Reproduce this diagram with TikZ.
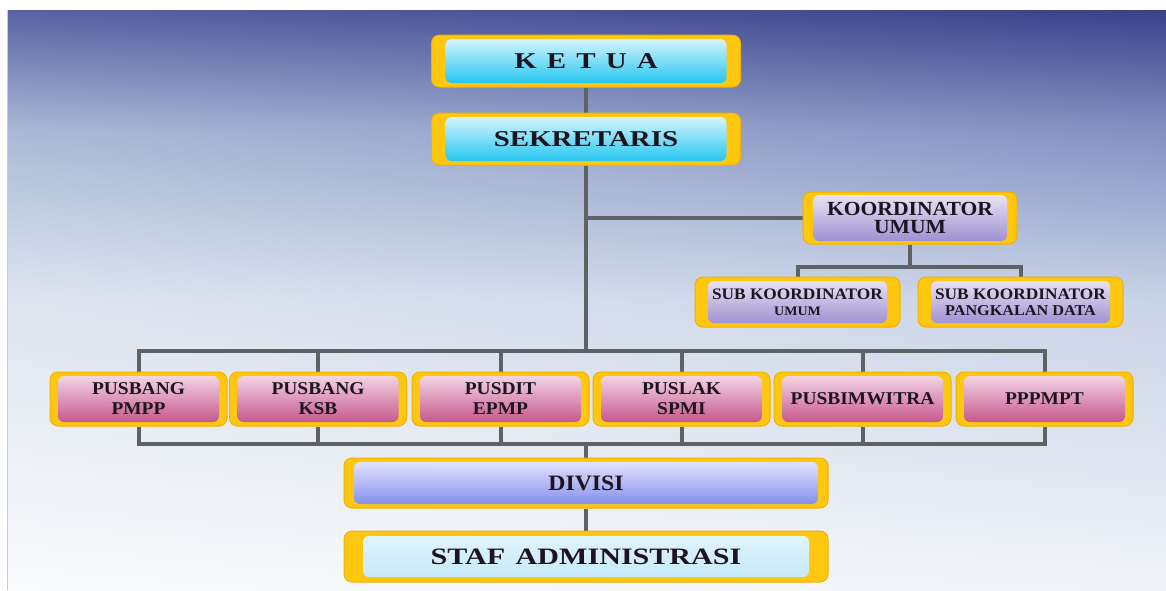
\documentclass[tikz,border=0pt]{standalone}
\usepackage{fontspec}
\setmainfont{Liberation Serif}
\newfontfamily\decofont[FakeStretch=1.28]{Liberation Serif}
\newfontfamily\ketuafont[FakeStretch=1.28, WordSpace=1.4]{Liberation Serif}
\newfontfamily\unitfont[FakeStretch=1.08]{Liberation Serif}
\usetikzlibrary{backgrounds, shadings}

\definecolor{gold}{HTML}{FFC710}
\definecolor{golddark}{HTML}{F2B000}
\definecolor{ink}{HTML}{1E1420}
\definecolor{linkgray}{HTML}{5F6265}
\definecolor{leadtop}{HTML}{E4F9FE}
\definecolor{leadbot}{HTML}{16C2EF}
\definecolor{koortop}{HTML}{EEE8F7}
\definecolor{koorbot}{HTML}{988BCF}
\definecolor{unittop}{HTML}{F7DEEB}
\definecolor{unitbot}{HTML}{C24D87}
\definecolor{divtop}{HTML}{E9EBFD}
\definecolor{divbot}{HTML}{7C88EC}
\definecolor{staftop}{HTML}{E4F5FD}
\definecolor{stafbot}{HTML}{C3E8F8}
\definecolor{bgA}{HTML}{5762A3}
\definecolor{bgB}{HTML}{3B4089}
\definecolor{bgC}{HTML}{A9B9D5}
\definecolor{bgD}{HTML}{8391C2}
\definecolor{bgE}{HTML}{DEE5EF}
\definecolor{bgF}{HTML}{C9D3E6}
\definecolor{bgG}{HTML}{FAFBFD}
\definecolor{bgH}{HTML}{F1F4F9}

\tikzset{
  orgbox/.style n args={4}{rounded corners=8pt, fill=gold, draw=golddark, line width=1pt,
    inner sep=0pt, align=center, text=ink,
    path picture={\shade[top color=#1, bottom color=#2, rounded corners=6pt]
      ([xshift=#3,yshift=-#4]path picture bounding box.north west) rectangle
      ([xshift=-#3,yshift=#4]path picture bounding box.south east);}},
  leadbox/.style={orgbox={leadtop}{leadbot}{14pt}{4pt}, minimum width=309pt, minimum height=52pt,
    font=\decofont\bfseries\fontsize{22.6}{24}\selectfont},
  koorbox/.style={orgbox={koortop}{koorbot}{10pt}{3pt}, minimum width=214pt, minimum height=52pt,
    font=\unitfont\bfseries\fontsize{20}{18}\selectfont},
  subbox/.style={orgbox={koortop}{koorbot}{13pt}{4pt}, minimum width=205pt, minimum height=50pt,
    font=\unitfont\bfseries\fontsize{16}{16}\selectfont},
  unitbox/.style={orgbox={unittop}{unitbot}{8pt}{4pt}, minimum width=177pt, minimum height=54pt,
    font=\unitfont\bfseries\fontsize{18}{20}\selectfont},
  divbox/.style={orgbox={divtop}{divbot}{10pt}{4pt}, minimum width=484pt, minimum height=50pt,
    font=\unitfont\bfseries\fontsize{22}{24}\selectfont},
  stafbox/.style={orgbox={staftop}{stafbot}{19pt}{5pt}, minimum width=484pt, minimum height=51pt,
    font=\decofont\bfseries\fontsize{23.5}{25}\selectfont},
  link/.style={draw=linkgray, line width=4pt, line join=miter},
}

\begin{document}
\begin{tikzpicture}[x=1pt, y=-1pt]
  \useasboundingbox (0,0) rectangle (1166,590);

  % Ketua and sekretaris
  \node[leadbox, font=\ketuafont\bfseries\fontsize{22.6}{24}\selectfont] (ketua) at (586,61) {K E T U A};
  \node[leadbox] (sekretaris) at (586,139) {SEKRETARIS};

  % Koordinator umum with its two subs
  \node[koorbox] (koordinator) at (910,218) {KOORDINATOR\\UMUM};
  \node[subbox] (subumum) at (797.5,302) {SUB KOORDINATOR\\{\fontsize{13}{14}\selectfont UMUM}};
  \node[subbox] (subdata) at (1020.5,302) {SUB KOORDINATOR\\{\fontsize{15}{16}\selectfont PANGKALAN DATA}};

  % Row of units
  \foreach \x/\name/\txt in {138.5/pmpp/{PUSBANG\\PMPP}, 318/ksb/{PUSBANG\\KSB}, 500.5/epmp/{PUSDIT\\EPMP},
      681.5/spmi/{PUSLAK\\SPMI}, 862.5/pusbimwitra/PUSBIMWITRA, 1044.5/pppmpt/PPPMPT}
    \node[unitbox] (\name) at (\x,399) {\txt};

  % Divisi and staf
  \node[divbox] (divisi) at (586,483) {DIVISI};
  \node[stafbox] (staf) at (586,556.5) {STAF ADMINISTRASI};

  \begin{scope}[on background layer]
    % Backdrop
    \fill[white] (0,0) rectangle (1166,590);
    \shade[upper left=bgA, upper right=bgB, lower left=bgC, lower right=bgD] (7,10) rectangle (1166,130);
    \shade[upper left=bgC, upper right=bgD, lower left=bgE, lower right=bgF] (7,130) rectangle (1166,300);
    \shade[upper left=bgE, upper right=bgF, lower left=bgG, lower right=bgH] (7,300) rectangle (1166,590);
    \draw[gray!40, line width=1pt] (7,10) -- (7,590);

    % Connectors
    \coordinate (kbus) at (910,267);
    \coordinate (tbus) at (586,351);
    \coordinate (bbus) at (586,444);
    \draw[link] (ketua) -- (sekretaris);
    \draw[link] (sekretaris) -- (tbus);
    \draw[link] (bbus) -- (divisi);
    \draw[link] (divisi) -- (staf);
    \draw[link] (koordinator) -- (koordinator -| sekretaris);
    \draw[link] (koordinator) -- (kbus);
    \draw[link] (subumum) |- (kbus) -| (subdata);
    \draw[link] (pmpp) |- (tbus) -| (pppmpt);
    \draw[link] (pmpp) |- (bbus) -| (pppmpt);
    \foreach \name in {ksb, epmp, spmi, pusbimwitra} {
      \draw[link] (\name) -- (\name |- tbus);
      \draw[link] (\name) -- (\name |- bbus);
    }
  \end{scope}
\end{tikzpicture}
\end{document}
